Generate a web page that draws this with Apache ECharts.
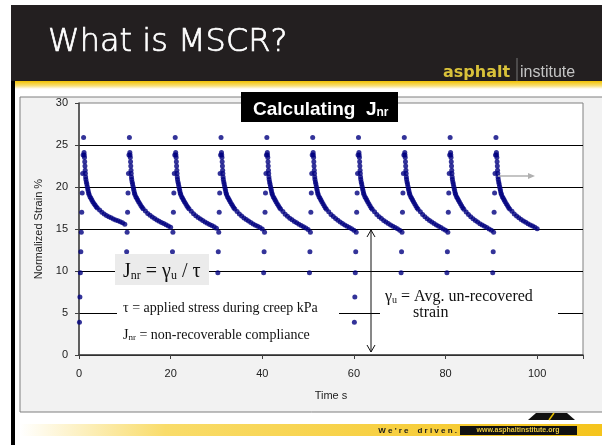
<!DOCTYPE html>
<html>
<head>
<meta charset="utf-8">
<script src="https://cdn.jsdelivr.net/npm/echarts@6/dist/echarts.min.js"></script>
<style>
html, body { margin: 0; padding: 0; background: #fff; }
#main { width: 602px; height: 445px; }
</style>
</head>
<body>
<div id="main"></div>
<script>
// start time of each creep/recovery cycle (s)
const cycleStart = [0, 10, 20, 30, 40, 50, 60, 70, 80, 90];

// creep part, time in cycle (s) and strain (%)
const creepT = [0.1, 0.2, 0.3, 0.4, 0.5, 0.6, 0.7, 0.8, 0.9, 1.0];
const creepV = [3.9, 6.9, 9.8, 12.3, 14.6, 17.0, 19.3, 21.6, 23.8, 25.9];

// early recovery, same for every cycle
const headT = [1.1, 1.15, 1.2, 1.25, 1.3, 1.35, 1.4, 1.45, 1.5, 1.6, 1.7, 1.8, 1.9, 2.0, 2.1, 2.2, 2.4, 2.6, 2.8, 3.0];
const headV = [24.1, 23.8, 23.5, 23.0, 22.5, 22.0, 21.6, 21.2, 20.9, 20.6, 20.35, 20.05, 19.8, 19.55, 19.3, 19.1, 18.85, 18.65, 18.45, 18.25];

// late recovery, one row per cycle
const tailT = [3.25, 3.5, 3.75, 4.0, 4.5, 5.0, 5.5, 6.0, 6.5, 7.0, 7.5, 8.0, 8.5, 9.0, 9.5, 10.0];
const tail1 = [18.05, 17.85, 17.65, 17.5, 17.25, 17.0, 16.8, 16.62, 16.47, 16.33, 16.2, 16.08, 15.97, 15.86, 15.73, 15.58];
const tail2 = [18.03, 17.81, 17.59, 17.42, 17.14, 16.86, 16.63, 16.42, 16.24, 16.07, 15.91, 15.77, 15.64, 15.51, 15.36, 15.2];
const tail3 = [18.03, 17.8, 17.58, 17.4, 17.12, 16.83, 16.59, 16.37, 16.18, 16.0, 15.84, 15.69, 15.55, 15.41, 15.26, 15.1];
const tail4 = [18.02, 17.79, 17.56, 17.38, 17.09, 16.79, 16.54, 16.32, 16.12, 15.94, 15.76, 15.6, 15.46, 15.32, 15.17, 15.0];
const tail5 = [18.02, 17.79, 17.56, 17.37, 17.07, 16.77, 16.52, 16.29, 16.09, 15.9, 15.73, 15.56, 15.42, 15.27, 15.12, 14.95];
const tail6 = [18.01, 17.78, 17.54, 17.35, 17.05, 16.74, 16.48, 16.24, 16.03, 15.83, 15.65, 15.48, 15.33, 15.18, 15.02, 14.85];
const tail7 = [18.0, 17.77, 17.54, 17.34, 17.04, 16.74, 16.47, 16.24, 16.02, 15.83, 15.64, 15.48, 15.33, 15.18, 15.02, 14.84];
const tail8 = [18.01, 17.77, 17.53, 17.34, 17.04, 16.73, 16.47, 16.23, 16.02, 15.82, 15.64, 15.47, 15.32, 15.17, 15.01, 14.84];
const tail9 = [18.0, 17.77, 17.53, 17.34, 17.03, 16.73, 16.46, 16.23, 16.01, 15.82, 15.63, 15.47, 15.32, 15.17, 15.01, 14.85];
const tail10 = [18.02, 17.79, 17.57, 17.39, 17.1, 16.8, 16.56, 16.33, 16.14, 15.96, 15.79, 15.63, 15.49, 15.35, 15.2, 15.03];
const tails = [tail1, tail2, tail3, tail4, tail5, tail6, tail7, tail8, tail9, tail10];

const points = [];
cycleStart.forEach((t0, c) => {
  creepT.forEach((t, i) => points.push([t0 + t, creepV[i]]));
  headT.forEach((t, i) => points.push([t0 + t, headV[i]]));
  tailT.forEach((t, i) => points.push([t0 + t, tails[c][i]]));
});

const sans = 'Liberation Sans';
const serif = 'Liberation Serif';

const chart = echarts.init(document.getElementById('main'));
const option = {
  animation: false,
  backgroundColor: '#fff',
  grid: {
    left: 79, top: 103, width: 504, height: 252,
    show: true, backgroundColor: '#fff', borderColor: '#808080', borderWidth: 1
  },
  xAxis: {
    type: 'value', min: 0, max: 110, interval: 20,
    name: 'Time s', nameLocation: 'middle', nameGap: 35,
    nameTextStyle: { fontSize: 11, fontFamily: sans, color: '#222' },
    axisLine: { show: true, onZero: false, lineStyle: { color: '#404040', width: 1.5 } },
    axisTick: { show: true, length: 4, lineStyle: { color: '#404040' } },
    axisLabel: { fontSize: 11, fontFamily: sans, color: '#222', margin: 13,
      formatter: v => (v > 100 ? '' : v) },
    splitLine: { show: false }
  },
  yAxis: {
    type: 'value', min: 0, max: 30, interval: 5,
    name: 'Normalized Strain %', nameLocation: 'middle', nameGap: 32,
    nameTextStyle: { fontSize: 11, fontFamily: sans, color: '#222' },
    axisLine: { show: true, lineStyle: { color: '#404040', width: 1.5 } },
    axisTick: { show: true, length: 4, lineStyle: { color: '#404040' } },
    axisLabel: { fontSize: 11, fontFamily: sans, color: '#222', margin: 11 },
    splitLine: { show: true, showMaxLine: false, lineStyle: { color: '#000', width: 1 } }
  },
  series: [{
    type: 'scatter',
    data: points,
    symbol: 'circle',
    symbolSize: 5,
    itemStyle: { color: '#000080' }
  }],
  graphic: [
    // slide frame
    { type: 'rect', z: -1, shape: { x: 11, y: 5, width: 4, height: 440 }, style: { fill: '#000' } },
    { type: 'rect', z: -1, shape: { x: 11, y: 5, width: 591, height: 76 }, style: { fill: '#231f20' } },
    { type: 'rect', z: -1, shape: { x: 15, y: 81, width: 587, height: 8 },
      style: { fill: new echarts.graphic.LinearGradient(0, 0, 0, 1, [
        { offset: 0, color: '#f2c200' }, { offset: 0.6, color: '#f8e07a' }, { offset: 1, color: '#ffffff' }]) } },
    { type: 'text', z: 10, style: { x: 48, y: 43, text: 'What is MSCR?', fill: '#fff',
      stroke: '#fff', lineWidth: 0.7,
      fontSize: 32, fontWeight: 300, fontFamily: 'DejaVu Sans', verticalAlign: 'middle' } },
    { type: 'text', z: 10, style: { x: 443, y: 73, text: 'asphalt', fill: '#d9c23a',
      fontSize: 16, fontWeight: 'bold', fontFamily: 'DejaVu Sans', verticalAlign: 'middle' } },
    { type: 'line', z: 10, shape: { x1: 517, y1: 58, x2: 517, y2: 81 }, style: { stroke: '#777', lineWidth: 1 } },
    { type: 'text', z: 10, style: { x: 520, y: 73, text: 'institute', fill: '#c4c4c4',
      fontSize: 16, fontFamily: sans, verticalAlign: 'middle' } },
    // chart area
    { type: 'rect', z: -1, shape: { x: 20, y: 97, width: 600, height: 315 },
      style: { fill: '#f2f2f2', stroke: '#7f7f7f', lineWidth: 1 } },
    // title box
    { type: 'rect', z: 50, shape: { x: 241, y: 92, width: 157, height: 30 }, style: { fill: '#000' } },
    { type: 'text', z: 51, style: { x: 253, y: 107, verticalAlign: 'middle',
      text: '{b|Calculating  J}{s|nr}',
      rich: {
        b: { fontSize: 19, fontWeight: 'bold', fontFamily: sans, fill: '#fff', lineHeight: 24, verticalAlign: 'bottom' },
        s: { fontSize: 12, fontWeight: 'bold', fontFamily: sans, fill: '#fff', lineHeight: 13, verticalAlign: 'bottom' }
      } } },
    // Jnr formula box
    { type: 'rect', z: 50, shape: { x: 115, y: 254, width: 94, height: 31 }, style: { fill: '#ebebeb' } },
    { type: 'text', z: 51, style: { x: 123, y: 270, verticalAlign: 'middle',
      text: '{a|J}{s|nr}{a| = γ}{s|u}{a| / τ}',
      rich: {
        a: { fontSize: 20, fontFamily: serif, fill: '#111', lineHeight: 24, verticalAlign: 'bottom' },
        s: { fontSize: 12, fontFamily: serif, fill: '#111', lineHeight: 14, verticalAlign: 'bottom' }
      } } },
    // definitions box
    { type: 'rect', z: 50, shape: { x: 117, y: 290, width: 222, height: 60 }, style: { fill: '#fff' } },
    { type: 'text', z: 51, style: { x: 123, y: 308, verticalAlign: 'middle',
      text: 'τ = applied stress during creep kPa', fontSize: 14, fontFamily: serif, fill: '#111' } },
    { type: 'text', z: 51, style: { x: 123, y: 333, verticalAlign: 'middle',
      text: '{a|J}{s|nr}{a| = non-recoverable compliance}',
      rich: {
        a: { fontSize: 14, fontFamily: serif, fill: '#111', lineHeight: 18, verticalAlign: 'bottom' },
        s: { fontSize: 9, fontFamily: serif, fill: '#111', lineHeight: 11, verticalAlign: 'bottom' }
      } } },
    // gamma box
    { type: 'rect', z: 50, shape: { x: 380, y: 283, width: 178, height: 67 }, style: { fill: '#fff' } },
    { type: 'text', z: 51, style: { x: 385, y: 295, verticalAlign: 'middle',
      text: '{a|γ}{s|u}{a| = Avg. un-recovered}',
      rich: {
        a: { fontSize: 16, fontFamily: serif, fill: '#111', lineHeight: 20, verticalAlign: 'bottom' },
        s: { fontSize: 10, fontFamily: serif, fill: '#111', lineHeight: 12, verticalAlign: 'bottom' }
      } } },
    { type: 'text', z: 51, style: { x: 413, y: 313, verticalAlign: 'middle',
      text: 'strain', fontSize: 16, fontFamily: serif, fill: '#111' } },
    // double arrow
    { type: 'line', z: 52, shape: { x1: 371, y1: 230, x2: 371, y2: 352 }, style: { stroke: '#111', lineWidth: 1 } },
    { type: 'polyline', z: 52, shape: { points: [[367, 237], [371, 230], [375, 237]] }, style: { stroke: '#111', fill: null, lineWidth: 1 } },
    { type: 'polyline', z: 52, shape: { points: [[367, 345], [371, 352], [375, 345]] }, style: { stroke: '#111', fill: null, lineWidth: 1 } },
    // grey pointer
    { type: 'line', z: 52, shape: { x1: 498, y1: 176, x2: 530, y2: 176 }, style: { stroke: '#b0b0b0', lineWidth: 1.5 } },
    { type: 'polygon', z: 52, shape: { points: [[535, 176], [528, 173], [528, 179]] }, style: { fill: '#b0b0b0' } },
    // footer
    { type: 'rect', z: -1, shape: { x: 20, y: 424, width: 582, height: 12 },
      style: { fill: new echarts.graphic.LinearGradient(0, 0, 1, 0, [
        { offset: 0, color: '#ffffff' }, { offset: 0.25, color: '#f9dc6a' }, { offset: 1, color: '#f5c41c' }]) } },
    { type: 'polygon', z: 5, shape: { points: [[528, 420], [536, 413], [567, 413], [575, 420]] }, style: { fill: '#111' } },
    { type: 'line', z: 6, shape: { x1: 549, y1: 420, x2: 554, y2: 413 }, style: { stroke: '#e8c000', lineWidth: 1.5 } },
    { type: 'text', z: 5, style: { x: 457, y: 430.5, align: 'right', verticalAlign: 'middle',
      text: "W e ' r e    d r i v e n .", fontSize: 8, fontWeight: 'bold', fontFamily: sans, fill: '#1a1a1a' } },
    { type: 'rect', z: 5, shape: { x: 460, y: 426, width: 117, height: 9 }, style: { fill: '#111' } },
    { type: 'text', z: 6, style: { x: 518, y: 430.5, align: 'center', verticalAlign: 'middle',
      text: 'www.asphaltinstitute.org', fontSize: 7, fontWeight: 'bold', fontFamily: sans, fill: '#e8c840' } }
  ]
};
chart.setOption(option);
</script>
</body>
</html>
